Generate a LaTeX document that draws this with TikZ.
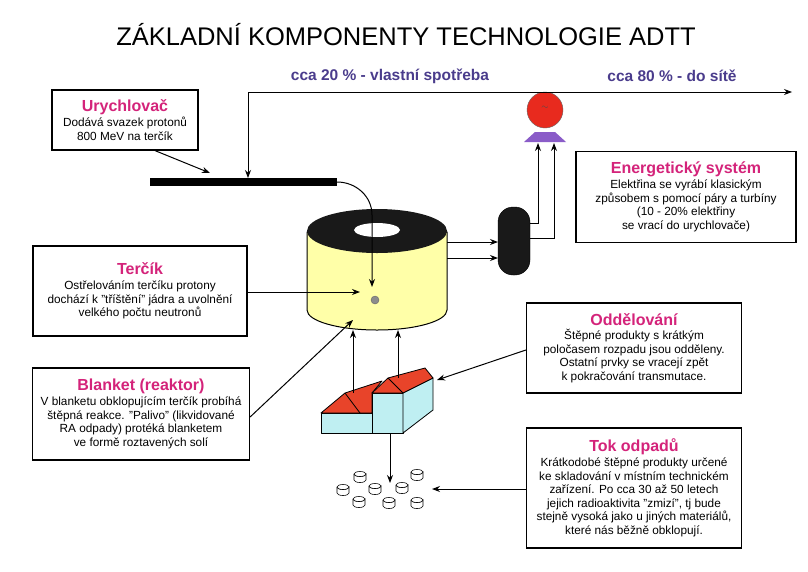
\documentclass[tikz,border=0pt]{standalone}
\usepackage{fontspec}
\setmainfont{Liberation Sans}
\usetikzlibrary{arrows.meta}
\definecolor{mag}{HTML}{D4237A}
\definecolor{lab}{HTML}{4A3C8C}
\definecolor{cyl}{HTML}{FFFFA8}
\definecolor{roof}{HTML}{E8442A}
\definecolor{wall}{HTML}{BFEFF2}
\definecolor{gen}{HTML}{E82A1E}
\definecolor{genb}{HTML}{8A5CC8}
\newcommand{\hd}[1]{{\fontsize{16}{19}\selectfont\bfseries\color{mag}#1}\\[1pt]}
\tikzset{
 infobox/.style={draw=black,line width=1.2pt,fill=white,align=center,inner sep=2pt,
   font=\fontsize{11.8}{13.6}\selectfont},
 arr/.style={-{Stealth[length=8pt,width=6pt]},line width=1pt},
 flowlab/.style={font=\fontsize{15.5}{18}\selectfont\bfseries,text=lab},
 drum/.style={draw=black,line width=0.6pt,fill=white}
}
\begin{document}
\begin{tikzpicture}[x=1pt,y=-1pt]
\useasboundingbox[fill=white] (0,0) rectangle (808,571);
\node (title) at (406,35) {\fontsize{25.5}{28}\selectfont ZÁKLADNÍ KOMPONENTY TECHNOLOGIE ADTT};

% boxes
\node[infobox,minimum width=146pt,minimum height=60pt] (ury) at (125,120) {\hd{Urychlovač}Dodává svazek protonů\\800 MeV na terčík};
\node[infobox,minimum width=214pt,minimum height=90pt] (ter) at (140,291) {\hd{Terčík}Ostřelováním terčíku protony\\dochází k "tříštění" jádra a uvolnění\\velkého počtu neutronů};
\node[infobox,minimum width=217pt,minimum height=92pt] (bla) at (141,414) {\hd{Blanket (reaktor)}V blanketu obklopujícím terčík probíhá\\štěpná reakce. "Palivo" (likvidované\\RA odpady) protéká blanketem\\ve formě roztavených solí};
\node[infobox,minimum width=220pt,minimum height=91pt] (ene) at (686,197) {\hd{Energetický systém}Elektřina se vyrábí klasickým\\způsobem s pomocí páry a turbíny\\(10 - 20\% elektřiny\\se vrací do urychlovače)};
\node[infobox,minimum width=215pt,minimum height=90pt] (odd) at (634,348) {\hd{Oddělování}Štěpné produkty s krátkým\\poločasem rozpadu jsou odděleny.\\Ostatní prvky se vracejí zpět\\k pokračování transmutace.};
\node[infobox,minimum width=215pt,minimum height=120pt] (tok) at (634,488) {\hd{Tok odpadů}Krátkodobé štěpné produkty určené\\ke skladování v místním technickém\\zařízení. Po cca 30 až 50 letech\\jejich radioaktivita "zmizí", tj bude\\stejně vysoká jako u jiných materiálů,\\které nás běžně obklopují.};

% accelerator bar
\fill[black] (150,178) rectangle (337,186);
\coordinate (barend) at (337,182);
\coordinate (bartop) at (248,178);
\coordinate (topl) at (248,92);
\coordinate (topr) at (792,92);

% cylinder
\path[fill=cyl,draw=black,line width=1pt] (307,232) -- (307,310) arc[start angle=180,end angle=0,x radius=70,y radius=20] -- (447,232) -- cycle;
\fill[black!90] (377,231) ellipse[x radius=70,y radius=22];
\fill[white] (377,230) ellipse[x radius=23,y radius=7];
\node[circle,fill=black!45,draw=black!60,inner sep=0pt,minimum size=8pt] (dot) at (375,300) {};
\coordinate (cyltarget) at (372,287);

% turbine
\node[draw=black,fill=black!90,rounded corners=15pt,minimum width=32pt,minimum height=68pt] (tur) at (514,241) {};
% generator
\fill[genb] (535,132) -- (555,132) -- (566,142) -- (524,142) -- cycle;
\node[circle,fill=gen,draw=black!60,minimum width=35pt,minimum height=36pt,inner sep=0pt] (gen) at (545,110) {};
\node[text=black!70] at (545,108) {\small$\sim$};

% top line and labels
\draw[arr] (topl) -- (topr);
\draw[arr] (topl) -- (bartop);
\node[flowlab] (l20) at (390,76) {cca 20 \% - vlastní spotřeba};
\node[flowlab] (l80) at (672,76) {cca 80 \% - do sítě};

% connectors
\draw[arr] (ury.south) ++(30,0) coordinate (us) (us) -- (210,173);
\draw[arr] (barend) to[out=0,in=90] (372,215) -- (cyltarget);
\draw[arr] (ter.east |- 0,292) -- (360,292);
\draw[arr] (bla.east |- 0,417) -- (353,320);
\draw[arr] (447,242) -- (498,242);
\draw[arr] (447,258) -- (498,258);
\draw[arr] (530,223) -- (538,223) -- (538,143);
\draw[arr] (530,238) -- (554,238) -- (554,143);

% building
\begin{scope}[line width=0.8pt,line join=round]
\filldraw[fill=wall] (321,413) rectangle (372,433);
\filldraw[fill=roof] (321,413) -- (345,393) -- (382,381) -- (372,393) -- (372,413) -- cycle;
\draw (345,393) -- (360,413);
\filldraw[fill=wall] (372,393) rectangle (403,433);
\filldraw[fill=wall] (403,393) -- (433,378) -- (433,410) -- (403,433) -- cycle;
\filldraw[fill=roof] (372,393) -- (388,378) -- (425,368) -- (433,378) -- (403,393) -- cycle;
\draw (388,378) -- (403,393);
\end{scope}
\coordinate (bld) at (390,433);
\draw[arr] (353,393) -- (353,330);
\draw[arr] (398,378) -- (398,330);
\draw[arr] (odd.west |- 0,350) -- (437,380);
\draw[arr] (bld) -- (390,483);
\draw[arr] (tok.west |- 0,489) -- (432,489);

% drums
\foreach \x/\y in {360/477,343/490,375/489,402/488,417/475,359/502,389/503,417/503}{
  \path[drum] (\x-6,\y-3) -- (\x-6,\y+3) arc[start angle=180,end angle=0,x radius=6,y radius=2.5] -- (\x+6,\y-3) arc[start angle=0,end angle=180,x radius=6,y radius=2.5];
  \draw[drum] (\x,\y-3) ellipse[x radius=6,y radius=2.5];
}
\end{tikzpicture}
\end{document}
